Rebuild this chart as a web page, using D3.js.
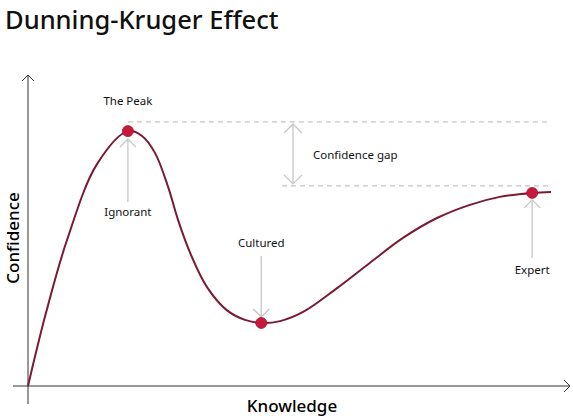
<!DOCTYPE html>
<html>
<head>
<meta charset="utf-8">
<script src="https://cdn.jsdelivr.net/npm/d3@7"></script>
<style>
  body { margin: 0; background: #fff; }
  svg { font-family: "Noto Sans", "Open Sans", sans-serif; }
</style>
</head>
<body>
<div class="chart"></div>
<script>
//data
const knowledge = [0, 3.44, 7.46, 13.19, 19.1, 21.8, 24.3, 26.8, 28.7, 31.0, 34.2, 38.0, 41.5, 44.6, 48.2, 52.6, 59.1, 65.4, 71.7, 78.2, 84.5, 90.2, 96.4, 100];
const confidence = [0, 23.9, 47.7, 72.5, 83.3, 81.7, 76.1, 65.0, 54.2, 43.5, 32.4, 24.8, 21.6, 20.6, 21.2, 24.2, 32.0, 40.3, 48.4, 54.9, 59.2, 61.8, 63.1, 63.4];

// the three marked stages
const stageNames = ["The Peak", "Cultured", "Expert"];
const stageX = [19.1, 44.6, 96.4];
const stageY = [83.3, 20.6, 63.1];

// confidence gap lines
const gapLevels = [86.3, 65.4];

//dimensions
const width = 573, height = 419;
const x = d3.scaleLinear().domain([0, 100]).range([28, 551]);
const y = d3.scaleLinear().domain([0, 100]).range([386, 80]);

const svg = d3.select(".chart").append("svg")
    .attr("width", width)
    .attr("height", height);

svg.append("text")
    .attr("x", 5).attr("y", 29)
    .style("font-size", "25.5px")
    .style("font-weight", 500)
    .attr("fill", "#111")
    .text("Dunning-Kruger Effect");

const grey = "#c6c6c6";

// open chevron arrow head, tip at (tx,ty)
function head(g, tx, ty, dir, s, color, w) {
  let p;
  if (dir == "up") p = [[tx - s, ty + s], [tx, ty], [tx + s, ty + s]];
  if (dir == "down") p = [[tx - s, ty - s], [tx, ty], [tx + s, ty - s]];
  if (dir == "right") p = [[tx - s, ty - s], [tx, ty], [tx - s, ty + s]];
  g.append("path")
    .attr("d", d3.line()(p))
    .attr("fill", "none")
    .attr("stroke", color)
    .attr("stroke-width", w);
}

//axes
const axes = svg.append("g");
axes.append("line").attr("x1", x(0)).attr("x2", x(0)).attr("y1", 404).attr("y2", 75)
    .attr("stroke", "#333").attr("stroke-width", 1);
axes.append("line").attr("x1", 13).attr("x2", 570).attr("y1", y(0)).attr("y2", y(0))
    .attr("stroke", "#333").attr("stroke-width", 1);
head(axes, x(0), 75, "up", 6, "#333", 1);
head(axes, 570, y(0), "right", 6, "#333", 1);

svg.append("text")
    .attr("x", 292).attr("y", 412)
    .attr("text-anchor", "middle")
    .style("font-size", "17px")
    .style("font-weight", 500)
    .text("Knowledge");

svg.append("text")
    .attr("transform", "translate(19,238) rotate(-90)")
    .attr("text-anchor", "middle")
    .style("font-size", "17px")
    .style("font-weight", 500)
    .text("Confidence");

//gap lines
svg.append("line")
    .attr("x1", x(stageX[0])).attr("x2", x(100))
    .attr("y1", y(gapLevels[0])).attr("y2", y(gapLevels[0]))
    .attr("stroke", "#b5b5b5").attr("stroke-dasharray", "5,4");
svg.append("line")
    .attr("x1", 282).attr("x2", x(100))
    .attr("y1", y(gapLevels[1])).attr("y2", y(gapLevels[1]))
    .attr("stroke", "#b5b5b5").attr("stroke-dasharray", "5,4");

const gap = svg.append("g");
gap.append("line").attr("x1", 293).attr("x2", 293)
    .attr("y1", y(gapLevels[0]) + 2).attr("y2", y(gapLevels[1]) - 2)
    .attr("stroke", grey).attr("stroke-width", 1.3);
head(gap, 293, y(gapLevels[0]) + 2, "up", 9, grey, 1.3);
head(gap, 293, y(gapLevels[1]) - 2, "down", 9, grey, 1.3);
svg.append("text")
    .attr("x", 313).attr("y", 159)
    .style("font-size", "11.5px")
    .attr("fill", "#111")
    .text("Confidence gap");

//curve
svg.append("path")
    .datum(knowledge.map((k, i) => [k, confidence[i]]))
    .attr("d", d3.line().x(d => x(d[0])).y(d => y(d[1])).curve(d3.curveCatmullRom.alpha(0.5)))
    .attr("fill", "none")
    .attr("stroke", "#7a1a34")
    .attr("stroke-width", 2);

//annotation arrows
const ann = svg.append("g");
// Ignorant: under the peak, pointing up
ann.append("line").attr("x1", x(stageX[0])).attr("x2", x(stageX[0]))
    .attr("y1", 202).attr("y2", y(stageY[0]) + 8)
    .attr("stroke", grey).attr("stroke-width", 1.3);
head(ann, x(stageX[0]), y(stageY[0]) + 8, "up", 8, grey, 1.3);
// Cultured: pointing down
ann.append("line").attr("x1", x(stageX[1])).attr("x2", x(stageX[1]))
    .attr("y1", 256).attr("y2", y(stageY[1]) - 6)
    .attr("stroke", grey).attr("stroke-width", 1.3);
head(ann, x(stageX[1]), y(stageY[1]) - 6, "down", 8, grey, 1.3);
// Expert: pointing up
ann.append("line").attr("x1", x(stageX[2])).attr("x2", x(stageX[2]))
    .attr("y1", 258).attr("y2", y(stageY[2]) + 7)
    .attr("stroke", grey).attr("stroke-width", 1.3);
head(ann, x(stageX[2]), y(stageY[2]) + 7, "up", 8, grey, 1.3);

//dots
svg.append("g").selectAll("circle")
    .data(stageX)
    .enter().append("circle")
    .attr("cx", d => x(d))
    .attr("cy", (d, i) => y(stageY[i]))
    .attr("r", 5.5)
    .attr("fill", "#c8193c")
    .attr("stroke", "#9e1430")
    .attr("stroke-width", 0.8);

//labels
const labels = [
  {t: stageNames[0], x: x(stageX[0]), y: 105},
  {t: "Ignorant", x: x(stageX[0]), y: 216},
  {t: stageNames[1], x: x(stageX[1]), y: 247},
  {t: stageNames[2], x: x(stageX[2]), y: 274}
];
svg.append("g").selectAll("text")
    .data(labels)
    .enter().append("text")
    .attr("x", d => d.x).attr("y", d => d.y)
    .attr("text-anchor", "middle")
    .style("font-size", "11.5px")
    .attr("fill", "#111")
    .text(d => d.t);
</script>
</body>
</html>
